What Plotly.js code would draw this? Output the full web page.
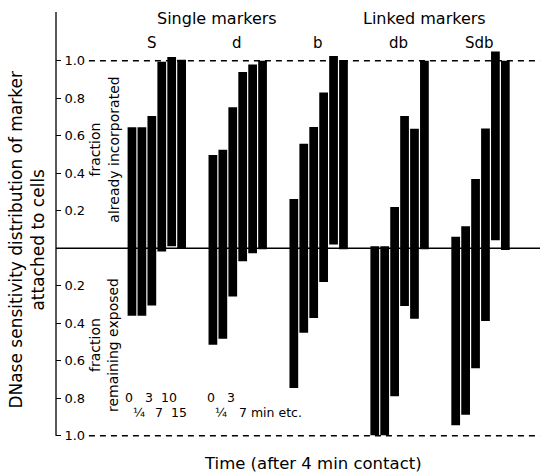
<!DOCTYPE html>
<html>
<head>
<meta charset="utf-8">
<script src="https://cdn.plot.ly/plotly-3.0.1.min.js"></script>
<style>
html,body{margin:0;padding:0;background:#fff;}
#chart{width:540px;height:474px;}
</style>
</head>
<body>
<div id="chart"></div>
<script>
// ---- data ----
var groups = ["S", "d", "b", "db", "Sdb"];
var times = ["0", "¼", "3", "7", "10", "15"];
var dTimeLabels = ["0", "¼", "3", "7 min etc."];
// fraction already incorporated (top of each bar)
var topS   = [0.645, 0.645, 0.705, 0.995, 1.020, 1.005];
var topD   = [0.497, 0.525, 0.752, 0.940, 0.980, 1.000];
var topB   = [0.263, 0.557, 0.646, 0.830, 1.025, 1.004];
var topDB  = [0.010, 0.010, 0.220, 0.706, 0.637, 1.000];
var topSDB = [0.061, 0.117, 0.369, 0.638, 1.050, 1.000];
// fraction remaining exposed (bottom of each bar, plotted downward)
var botS   = [-0.360, -0.360, -0.305, -0.018, 0.010, -0.002];
var botD   = [-0.515, -0.483, -0.258, -0.070, -0.027, -0.005];
var botB   = [-0.745, -0.451, -0.372, -0.180, 0.020, -0.005];
var botDB  = [-0.998, -0.998, -0.790, -0.308, -0.376, -0.005];
var botSDB = [-0.944, -0.888, -0.640, -0.388, 0.043, -0.010];
var yTickVals = [-1.0, -0.8, -0.6, -0.4, -0.2, 0.2, 0.4, 0.6, 0.8, 1.0];

// ---- build ----
var tops = [topS, topD, topB, topDB, topSDB];
var bots = [botS, botD, botB, botDB, botSDB];
var PITCH = 8.15;
var xs = [], bases = [], lens = [];
for (var g = 0; g < groups.length; g++) {
  for (var i = 0; i < times.length; i++) {
    xs.push(g * PITCH + i);
    bases.push(bots[g][i]);
    lens.push(tops[g][i] - bots[g][i]);
  }
}
var FONT = "DejaVu Sans, sans-serif";
var trace = {
  type: "bar", x: xs, y: lens, base: bases, width: 0.88,
  marker: {color: "#000", line: {width: 0}},
  hoverinfo: "skip", showlegend: false
};

var ann = [];
// y axis title
ann.push({xref: "paper", yref: "y", x: 0, y: 0.046, xshift: -29,
  text: "DNase sensitivity distribution of marker<br>attached to cells",
  textangle: -90, showarrow: false, xanchor: "center", yanchor: "middle",
  font: {family: FONT, size: 17, color: "#000"}});
// x axis title
ann.push({xref: "paper", yref: "paper", x: 0.531, y: -0.0368,
  text: "Time (after 4 min contact)", showarrow: false,
  xanchor: "center", yanchor: "middle",
  font: {family: FONT, size: 16.5, color: "#000"}});
// inner labels
ann.push({xref: "paper", yref: "y", x: 0.0992, y: 0.526,
  text: "fraction<br>already incorporated", textangle: -90, showarrow: false,
  xanchor: "center", yanchor: "middle", font: {family: FONT, size: 14, color: "#000"}});
ann.push({xref: "paper", yref: "y", x: 0.098, y: -0.514,
  text: "fraction<br>remaining exposed", textangle: -90, showarrow: false,
  xanchor: "center", yanchor: "middle", font: {family: FONT, size: 14, color: "#000"}});
// headings
ann.push({xref: "x", yref: "y", x: 1 * PITCH + 0.4, y: 1.225, text: "Single markers",
  showarrow: false, xanchor: "center", yanchor: "middle",
  font: {family: FONT, size: 16, color: "#000"}});
ann.push({xref: "x", yref: "y", x: 3 * PITCH + 5.0, y: 1.225, text: "Linked markers",
  showarrow: false, xanchor: "center", yanchor: "middle",
  font: {family: FONT, size: 16, color: "#000"}});
// group labels
for (var g2 = 0; g2 < groups.length; g2++) {
  ann.push({xref: "x", yref: "y", x: g2 * PITCH + 2.5, y: 1.097, text: groups[g2],
    xshift: g2 === 0 ? -5 : -1, showarrow: false, xanchor: "center", yanchor: "middle",
    font: {family: FONT, size: 15, color: "#000"}});
}
// time labels (S group)
for (var t = 0; t < times.length; t++) {
  ann.push({xref: "x", yref: "y", x: t, y: (t % 2 === 0) ? -0.797 : -0.877,
    text: times[t], xshift: -2.5, showarrow: false, xanchor: "center", yanchor: "middle",
    font: {family: FONT, size: 12.5, color: "#000"}});
}
// time labels (d group)
for (var u = 0; u < dTimeLabels.length; u++) {
  var last = (u === dTimeLabels.length - 1);
  ann.push({xref: "x", yref: "y", x: PITCH + u, y: (u % 2 === 0) ? -0.797 : -0.877,
    text: dTimeLabels[u], xshift: last ? -6 : -1.5, showarrow: false,
    xanchor: last ? "left" : "center", yanchor: "middle",
    font: {family: FONT, size: 12.5, color: "#000"}});
}

var shapes = [
  // y axis line (ends at -1.0)
  {type: "line", xref: "paper", yref: "y", x0: 0, x1: 0, y0: -1, y1: 1.26,
   line: {color: "#000", width: 1.3}},
  {type: "line", xref: "paper", yref: "y", x0: 0, x1: 1, y0: 0, y1: 0,
   line: {color: "#000", width: 1.6}, layer: "below"},
  {type: "line", xref: "paper", yref: "y", x0: 0.068, x1: 1, y0: 1, y1: 1,
   line: {color: "#000", width: 1.4, dash: "6px,5px"}, layer: "below"},
  {type: "line", xref: "paper", yref: "y", x0: 0.068, x1: 1, y0: -1, y1: -1,
   line: {color: "#000", width: 1.4, dash: "6px,5px"}, layer: "below"}
];

var layout = {
  width: 540, height: 474,
  margin: {l: 56, r: 0, t: 12, b: 27, pad: 0},
  paper_bgcolor: "#fff", plot_bgcolor: "#fff",
  font: {family: FONT, color: "#000"},
  showlegend: false,
  xaxis: {range: [-7.65, 41.09], visible: false, fixedrange: true},
  yaxis: {
    range: [-1.06, 1.26], showgrid: false, zeroline: false,
    showline: false,
    tickmode: "array", tickvals: yTickVals,
    ticktext: yTickVals.map(function (v) { return Math.abs(v).toFixed(1); }),
    ticks: "inside", ticklen: 5, tickwidth: 1.2, tickcolor: "#000",
    ticklabelposition: "inside", ticklabelstandoff: 3,
    tickfont: {family: FONT, size: 13, color: "#000"},
    fixedrange: true
  },
  annotations: ann,
  shapes: shapes
};
Plotly.newPlot("chart", [trace], layout, {staticPlot: true, displayModeBar: false});
</script>
</body>
</html>
